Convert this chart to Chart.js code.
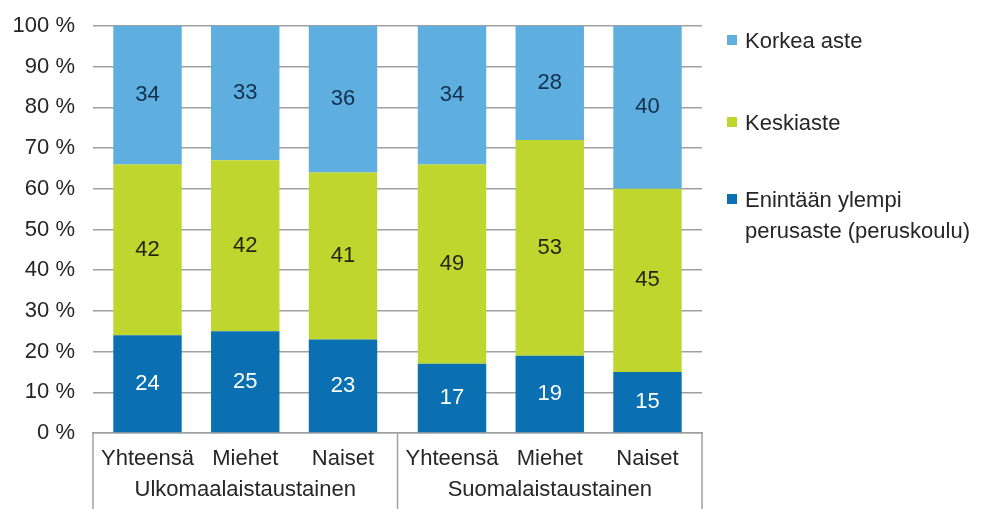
<!DOCTYPE html>
<html><head><meta charset="utf-8">
<script src="https://cdn.jsdelivr.net/npm/chart.js@4.4.1/dist/chart.umd.min.js"></script>
<style>
html,body{margin:0;padding:0;background:#fff;}
#wrap{position:relative;width:989px;height:509px;overflow:hidden;}
#legend{position:absolute;left:727px;top:0;font-family:'Liberation Sans',Arial,sans-serif;font-size:22px;color:#262626;}
.item{position:absolute;left:0;white-space:pre;}
.sw{position:absolute;left:0;top:10px;width:10px;height:10px;}
.tx{position:absolute;left:18px;top:0;line-height:31px;}
</style></head><body>
<div id="wrap"><canvas id="c" width="989" height="509"></canvas><div id="legend"></div></div>
<script>
// ---- data ----
const groups = ['Ulkomaalaistaustainen', 'Suomalaistaustainen'];
const subgroups = ['Yhteensä', 'Miehet', 'Naiset'];
const levelNames = ['Enintään ylempi\nperusaste (peruskoulu)', 'Keskiaste', 'Korkea aste'];
// values in order: Ulk Yht, Ulk Miehet, Ulk Naiset, Suom Yht, Suom Miehet, Suom Naiset
const perusaste = [24, 25, 23, 17, 19, 15];
const keskiaste = [42, 42, 41, 49, 53, 45];
const korkeaAste = [34, 33, 36, 34, 28, 40];
const yTickValues = [0, 10, 20, 30, 40, 50, 60, 70, 80, 90, 100];

// ---- styling ----
const FONT = "'Liberation Sans', Arial, sans-serif";
const levelValues = [perusaste, keskiaste, korkeaAste];
const colors = ['#0a70b2', '#bfd62f', '#5eaee0'];
const valueColors = ['#ffffff', '#262610', '#12304c'];
const lineColor = '#a0a0a0';
const textColor = '#262626';

const datasets = [];
subgroups.forEach((sg, s) => {
  levelValues.forEach((vals, l) => {
    datasets.push({
      label: levelNames[l],
      data: groups.map((g, gi) => vals[gi * subgroups.length + s]),
      backgroundColor: colors[l],
      borderWidth: 0,
      stack: 'sub' + s,
      subLabel: sg,
      level: l,
      categoryPercentage: 0.963,
      barPercentage: 0.70
    });
  });
});

const overlay = {
  id: 'overlay',
  afterDatasetsDraw(chart) {
    const ctx = chart.ctx;
    const ca = chart.chartArea;
    ctx.save();
    ctx.font = '22px ' + FONT;
    ctx.textAlign = 'center';
    ctx.textBaseline = 'middle';
    chart.data.datasets.forEach((ds, i) => {
      const meta = chart.getDatasetMeta(i);
      meta.data.forEach((el, j) => {
        ctx.fillStyle = valueColors[ds.level];
        ctx.fillText(String(ds.data[j]), el.x, (el.y + el.base) / 2);
        if (ds.level === 0) {
          ctx.fillStyle = textColor;
          ctx.fillText(ds.subLabel, el.x, ca.bottom + 26);
        }
      });
    });
    // category box lines
    const xs = chart.scales.x;
    const xsPos = [ca.left, (xs.getPixelForValue(0) + xs.getPixelForValue(1)) / 2, ca.right];
    ctx.strokeStyle = lineColor;
    ctx.lineWidth = 1.5;
    xsPos.forEach(x => {
      ctx.beginPath();
      ctx.moveTo(x, ca.bottom);
      ctx.lineTo(x, chart.height);
      ctx.stroke();
    });
    ctx.restore();
  }
};

new Chart(document.getElementById('c'), {
  type: 'bar',
  data: { labels: groups, datasets },
  options: {
    responsive: false,
    animation: false,
    devicePixelRatio: 1,
    layout: { padding: { left: 0, right: 287, top: 26, bottom: 0 } },
    plugins: { legend: { display: false }, tooltip: { enabled: false } },
    scales: {
      x: {
        stacked: true,
        grid: { display: false, drawTicks: false },
        border: { display: true, color: lineColor, width: 1.5 },
        ticks: { font: { family: FONT, size: 22 }, color: textColor, padding: 44 },
        afterFit(s) { s.height = 76; s.paddingLeft = 0; s.paddingRight = 0; }
      },
      y: {
        stacked: true,
        min: 0, max: 100,
        afterBuildTicks(s) { s.ticks = yTickValues.map(v => ({ value: v })); },
        ticks: { font: { family: FONT, size: 22 }, color: textColor, padding: 18, callback: v => v + ' %' },
        grid: { color: lineColor, lineWidth: 1.5, drawTicks: false },
        border: { display: false },
        afterFit(s) { s.width = 93; s.paddingTop = 0; s.paddingBottom = 0; }
      }
    }
  },
  plugins: [overlay]
});

// HTML legend (top to bottom: Korkea aste, Keskiaste, Enintään ...)
const legend = document.getElementById('legend');
const legendTops = [184, 107, 25];
[2, 1, 0].forEach(l => {
  const item = document.createElement('div');
  item.className = 'item';
  item.style.top = legendTops[l] + 'px';
  item.innerHTML = '<div class="sw" style="background:' + colors[l] + '"></div><div class="tx"></div>';
  item.querySelector('.tx').textContent = levelNames[l];
  legend.appendChild(item);
});
</script>
</body></html>
